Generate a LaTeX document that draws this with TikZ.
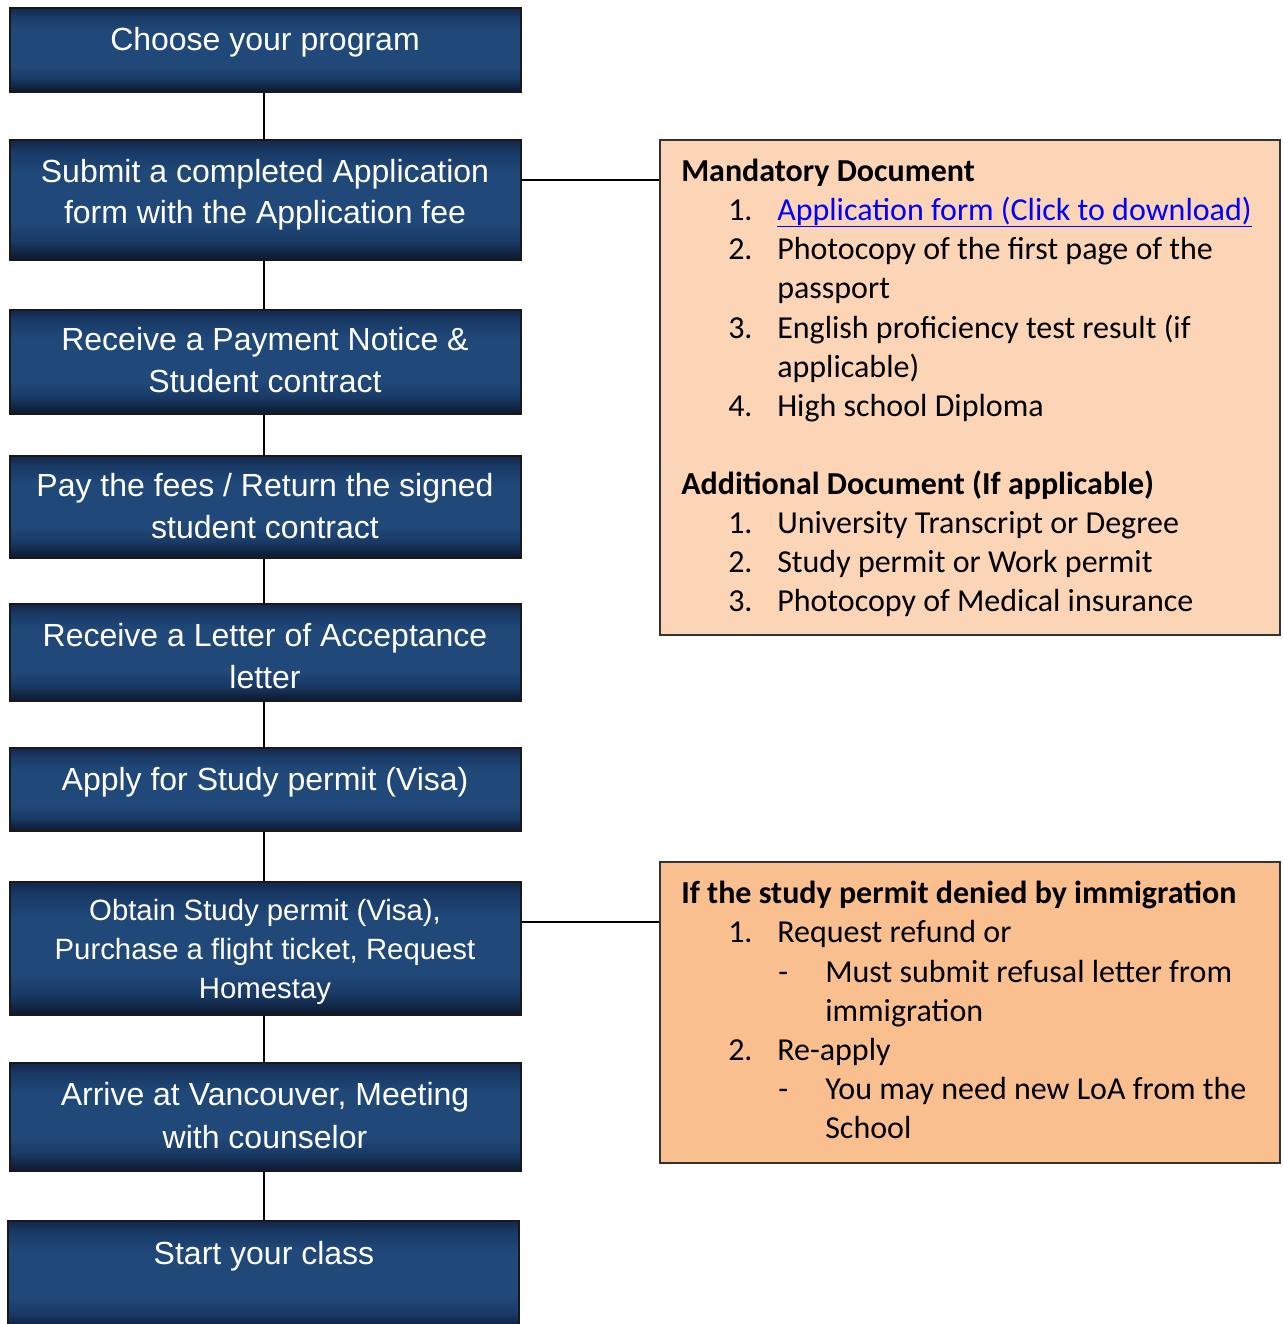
\documentclass[tikz,border=0pt]{standalone}
\usepackage{fontspec}
\newfontfamily\stepfont{Liberation Sans}
\newfontfamily\notefont{Carlito}
\usetikzlibrary{calc}

\definecolor{navyTop}{HTML}{13274A}
\definecolor{navyMid}{HTML}{193A66}
\definecolor{navyLight}{HTML}{20497A}
\definecolor{navyLow}{HTML}{0C182D}
\definecolor{peachLight}{HTML}{FBD5B5}
\definecolor{peachDeep}{HTML}{F9BF8F}
\definecolor{linkblue}{HTML}{0000FF}

% vertical shading of the step boxes (listed bottom to top)
\pgfdeclareverticalshading{navybox}{100bp}{%
  color(0bp)=(navyLow); color(25bp)=(navyLow); color(33bp)=(navyMid);
  color(41bp)=(navyLight); color(61bp)=(navyLight); color(70bp)=(navyMid);
  color(75bp)=(navyTop); color(100bp)=(navyTop)}

\begin{document}
\begin{tikzpicture}[x=0.75pt,y=-0.75pt,
  stepbox/.style={draw=black!90, line width=1.1pt, shading=navybox,
    minimum width=383.25pt, inner sep=0pt},
  steptext/.style={anchor=base, text=white, inner sep=0pt,
    font=\stepfont\fontsize{24pt}{28pt}\selectfont},
  smalltext/.style={steptext, font=\stepfont\fontsize{22pt}{26pt}\selectfont},
  notebox/.style={draw=black!80, line width=1.1pt, minimum width=465pt, inner sep=0pt},
  notetext/.style={anchor=base west, inner sep=0pt,
    font=\notefont\fontsize{24pt}{29pt}\selectfont},
  headtext/.style={notetext, font=\notefont\bfseries\fontsize{24pt}{29pt}\selectfont},
  link/.style={draw=black, line width=1.3pt}]

\useasboundingbox (0,0) rectangle (1282,1324);
\fill[white] (0,0) rectangle (1282,1324);

% ---- process steps ----
\node[stepbox, minimum height=63pt]    (b1) at (265.5,50)   {};
\node[stepbox, minimum height=90pt]    (b2) at (265.5,200)  {};
\node[stepbox, minimum height=78pt]    (b3) at (265.5,362)  {};
\node[stepbox, minimum height=76.5pt]  (b4) at (265.5,507)  {};
\node[stepbox, minimum height=72.75pt] (b5) at (265.5,652.5){};
\node[stepbox, minimum height=62.25pt] (b6) at (265.5,789.5){};
\node[stepbox, minimum height=99.75pt] (b7) at (265.5,948.5){};
\node[stepbox, minimum height=81pt]    (b8) at (265.5,1117) {};
\node[stepbox, minimum height=82.5pt]  (b9) at (263.5,1276) {};

\node[steptext] (t1)  at (265,50)   {Choose your program};
\node[steptext] (t2a) at (265,182)  {Submit a completed Application};
\node[steptext] (t2b) at (265,223)  {form with the Application fee};
\node[steptext] (t3a) at (265,350)  {Receive a Payment Notice \&};
\node[steptext] (t3b) at (265,392)  {Student contract};
\node[steptext] (t4a) at (265,496)  {Pay the fees / Return the signed};
\node[steptext] (t4b) at (265,538)  {student contract};
\node[steptext] (t5a) at (265,646)  {Receive a Letter of Acceptance};
\node[steptext] (t5b) at (265,688)  {letter};
\node[steptext] (t6)  at (265,790)  {Apply for Study permit (Visa)};
\node[smalltext] (t7a) at (265,920) {Obtain Study permit (Visa),};
\node[smalltext] (t7b) at (265,959) {Purchase a flight ticket, Request};
\node[smalltext] (t7c) at (265,998) {Homestay};
\node[steptext] (t8a) at (265,1105) {Arrive at Vancouver, Meeting};
\node[steptext] (t8b) at (265,1148) {with counselor};
\node[steptext] (t9)  at (264,1264) {Start your class};

% ---- side notes ----
\node[notebox, fill=peachLight, minimum height=371.25pt] (n1) at (970,387.5) {};
\node[notebox, fill=peachDeep,  minimum height=225.75pt] (n2) at (970,1012.5) {};

\node[headtext] (h1)  at (681,181) {Mandatory Document};
\node[notetext] (m1n) at (728,220) {1.};
\node[notetext, text=linkblue] (m1) at (777,220) {Application form (Click to download)};
\node[notetext] (m2n) at (728,259) {2.};
\node[notetext] (m2)  at (777,259) {Photocopy of the first page of the};
\node[notetext] (m2c) at (777,298) {passport};
\node[notetext] (m3n) at (728,338) {3.};
\node[notetext] (m3)  at (777,338) {English proficiency test result (if};
\node[notetext] (m3c) at (777,377) {applicable)};
\node[notetext] (m4n) at (728,416) {4.};
\node[notetext] (m4)  at (777,416) {High school Diploma};
% hyperlink underline
\draw[linkblue, line width=1pt] ([yshift=-4.8pt]m1.base west) -- ([yshift=-4.8pt]m1.base east);

\node[headtext] (h2)  at (681,494) {Additional Document (If applicable)};
\node[notetext] (a1n) at (728,533) {1.};
\node[notetext] (a1)  at (777,533) {University Transcript or Degree};
\node[notetext] (a2n) at (728,572) {2.};
\node[notetext] (a2)  at (777,572) {Study permit or Work permit};
\node[notetext] (a3n) at (728,611) {3.};
\node[notetext] (a3)  at (777,611) {Photocopy of Medical insurance};

\node[headtext] (h3)  at (681,903)  {If the study permit denied by immigration};
\node[notetext] (r1n) at (728,942)  {1.};
\node[notetext] (r1)  at (777,942)  {Request refund or};
\node[notetext] (r1d) at (778,982)  {-};
\node[notetext] (r1s) at (825,982)  {Must submit refusal letter from};
\node[notetext] (r1t) at (825,1021) {immigration};
\node[notetext] (r2n) at (728,1060) {2.};
\node[notetext] (r2)  at (777,1060) {Re-apply};
\node[notetext] (r2d) at (778,1099) {-};
\node[notetext] (r2s) at (825,1099) {You may need new LoA from the};
\node[notetext] (r2t) at (825,1138) {School};

% ---- connectors ----
\foreach \a/\b in {b1/b2,b2/b3,b3/b4,b4/b5,b5/b6,b6/b7,b7/b8}
  \draw[link] ([xshift=-1.1pt]\a.south) -- ([xshift=-1.1pt]\a.south |- \b.north);
\draw[link] (b8.south -| b9.north) ++(0.5,0) -- ([xshift=0.4pt]b9.north);
\draw[link] ([yshift=-30.75pt]b2.north east) -- ([yshift=-30.75pt]b2.north east -| n1.west);
\draw[link] ([yshift=-30.75pt]b7.north east) -- ([yshift=-30.75pt]b7.north east -| n2.west);
\end{tikzpicture}
\end{document}
